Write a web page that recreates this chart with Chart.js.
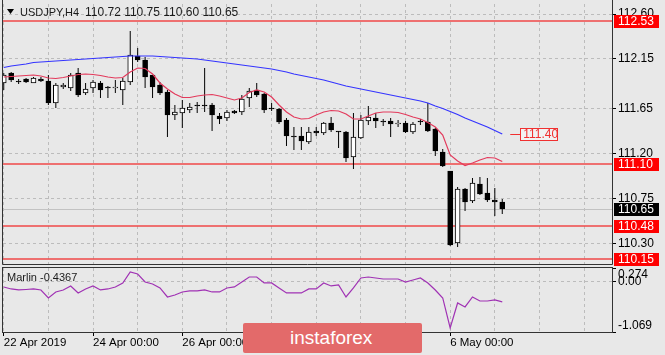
<!DOCTYPE html>
<html><head><meta charset="utf-8">
<script src="https://cdn.jsdelivr.net/npm/chart.js@4/dist/chart.umd.min.js"></script>
<style>
html,body{margin:0;padding:0;background:#e8e8e8;}
#wrap{position:relative;width:665px;height:355px;overflow:hidden;background:#e8e8e8;}
#c1{position:absolute;left:0;top:0;}
#c2{position:absolute;left:0;top:266px;}
#wm{position:absolute;left:243px;top:323px;width:179px;height:30px;background:#e36a6a;color:#fff;
 font:19px 'Liberation Sans',Arial,sans-serif;line-height:30px;padding-left:47px;box-sizing:border-box;border-radius:2px;}
</style></head><body>
<div id="wrap">
<canvas id="c1" width="665" height="266"></canvas>
<canvas id="c2" width="665" height="89"></canvas>
<div id="wm">instaforex</div>
</div>
<script>
// ---- data ----
const symbolName = 'USDJPY,H4';
const open  = [111.91,112.01,111.93,111.95,111.91,111.95,111.93,111.71,111.87,111.86,
  112.01,111.81,111.86,111.91,111.87,111.86,111.84,111.92,112.18,112.14,
  111.99,111.89,111.82,111.59,111.61,111.64,111.68,111.68,111.69,111.58,
  111.56,111.63,111.62,111.76,111.84,111.80,111.65,111.65,111.54,111.38,
  111.38,111.32,111.43,111.41,111.51,111.42,111.42,111.17,111.36,111.53,
  111.56,111.53,111.53,111.50,111.51,111.42,111.53,111.52,111.45,111.22,
  111.03,110.31,110.85,110.73,110.90,110.81,110.74,110.72];
const high  = [112.01,112.02,111.95,111.96,111.97,111.97,111.99,111.91,111.91,112.01,
  112.06,111.91,111.94,111.93,111.88,111.94,111.96,112.43,112.26,112.17,
  111.99,111.92,111.84,111.69,111.74,111.71,111.72,112.06,111.71,111.61,
  111.64,111.64,111.79,111.86,111.91,111.81,111.71,111.66,111.56,111.47,
  111.47,111.47,111.47,111.52,111.57,111.43,111.43,111.61,111.59,111.68,
  111.61,111.55,111.56,111.54,111.53,111.52,111.55,111.71,111.46,111.25,
  111.03,110.87,110.86,110.96,110.97,110.96,110.86,110.75];
const low   = [111.84,111.92,111.90,111.91,111.91,111.92,111.69,111.66,111.85,111.83,
  111.77,111.79,111.81,111.76,111.76,111.81,111.69,111.89,112.12,111.86,
  111.76,111.79,111.37,111.54,111.46,111.61,111.61,111.62,111.43,111.50,
  111.53,111.60,111.59,111.67,111.77,111.61,111.63,111.50,111.28,111.24,
  111.24,111.30,111.38,111.39,111.42,111.26,111.12,111.05,111.35,111.49,
  111.46,111.48,111.37,111.47,111.41,111.40,111.49,111.42,111.18,111.07,
  110.28,110.27,110.63,110.71,110.79,110.72,110.58,110.60];
const close = [111.99,111.94,111.92,111.92,111.96,111.93,111.71,111.89,111.89,111.99,
  111.79,111.85,111.92,111.84,111.86,111.87,111.93,112.19,112.14,111.97,
  111.87,111.81,111.59,111.62,111.66,111.67,111.68,111.68,111.59,111.55,
  111.62,111.61,111.75,111.83,111.79,111.64,111.65,111.52,111.38,111.37,
  111.33,111.42,111.41,111.51,111.44,111.42,111.16,111.37,111.54,111.57,
  111.53,111.52,111.50,111.51,111.42,111.50,111.52,111.43,111.23,111.08,
  110.29,110.85,110.72,110.91,110.80,110.74,110.72,110.65];
const maSlow = [112.065,112.08,112.09,112.10,112.115,112.12,112.125,112.13,112.135,112.14,
  112.145,112.15,112.155,112.16,112.165,112.17,112.175,112.18,112.18,112.18,
  112.18,112.175,112.17,112.165,112.16,112.155,112.15,112.14,112.13,112.12,
  112.11,112.10,112.09,112.08,112.07,112.06,112.05,112.035,112.02,112.00,
  111.985,111.97,111.955,111.94,111.92,111.90,111.88,111.865,111.85,111.835,
  111.82,111.805,111.79,111.775,111.76,111.745,111.73,111.71,111.68,111.655,
  111.625,111.595,111.56,111.53,111.50,111.47,111.435,111.40];
const maFast = [111.97,111.975,111.98,111.985,111.99,111.98,111.96,111.955,111.965,111.98,
  111.995,112.00,111.995,111.985,111.97,111.96,111.965,112.02,112.06,112.055,
  112.00,111.91,111.85,111.80,111.765,111.765,111.78,111.79,111.795,111.78,
  111.76,111.74,111.76,111.815,111.84,111.82,111.77,111.69,111.62,111.57,
  111.55,111.555,111.59,111.62,111.635,111.63,111.60,111.55,111.55,111.58,
  111.61,111.62,111.62,111.615,111.595,111.57,111.55,111.515,111.47,111.39,
  111.19,111.13,111.085,111.11,111.14,111.165,111.16,111.125];
const marlin = [-0.124,-0.166,-0.187,-0.177,-0.166,-0.187,-0.355,-0.229,-0.187,-0.103,
  -0.250,-0.166,-0.103,-0.187,-0.166,-0.124,-0.040,0.190,0.148,-0.020,
  -0.061,-0.145,-0.334,-0.292,-0.229,-0.208,-0.208,-0.187,-0.229,-0.229,
  -0.145,-0.124,-0.020,0.085,0.085,-0.040,-0.040,-0.145,-0.250,-0.250,
  -0.250,-0.166,-0.166,-0.040,-0.103,-0.082,-0.334,-0.145,0.064,0.085,
  0.064,0.043,0.043,0.043,-0.020,0.022,0.064,-0.040,-0.187,-0.355,
  -0.984,-0.460,-0.544,-0.334,-0.418,-0.418,-0.397,-0.4367];
const priceTicks = [110.30, 110.75, 111.20, 111.65, 112.15, 112.60];
const levels = [112.53, 111.10, 110.48, 110.15];
const maLabelValue = 111.40;
const marlinTicks = [0.274, 0.00, -1.069];
const gridBars = [0,6,12,18,24,30,36,42,48,54,60,66,72,78];
const timeTickBars = [0,12,24,60];
const timeTickLabels = ['22 Apr 2019','24 Apr 00:00','26 Apr 00:00','6 May 00:00'];

// ---- setup ----
const FONT = "'Liberation Sans', Arial, sans-serif";
Chart.defaults.font.family = FONT;
Chart.defaults.font.size = 12;
Chart.defaults.color = '#000';
const n = close.length;
const idx = close.map((_, i) => i);
const lastPrice = close[n - 1];
const GRID = '#bcbcbc', FRAME = '#333333';
const XMIN = -0.1, XMAX = 81.75;

function noPad(s){ s.paddingTop = 0; s.paddingBottom = 0; s.paddingLeft = 0; s.paddingRight = 0; }

const mainDeco = {
  id: 'mainDeco',
  beforeDatasetsDraw(chart) {
    const {ctx, chartArea: a, scales: {y}} = chart;
    ctx.save();
    ctx.beginPath(); ctx.rect(a.left, 0, a.right - a.left, a.bottom); ctx.clip();
    const py = Math.round(y.getPixelForValue(lastPrice)) + 0.5;
    ctx.strokeStyle = '#c2c2c2'; ctx.lineWidth = 1;
    ctx.beginPath(); ctx.moveTo(a.left, py); ctx.lineTo(a.right, py); ctx.stroke();
    ctx.strokeStyle = '#f04848'; ctx.lineWidth = 1.6;
    levels.forEach(v => { const yy = y.getPixelForValue(v);
      ctx.beginPath(); ctx.moveTo(a.left, yy); ctx.lineTo(a.right, yy); ctx.stroke(); });
    ctx.restore();
  },
  afterDraw(chart) {
    const {ctx, chartArea: a, scales: {x, y}} = chart;
    ctx.save();
    ctx.strokeStyle = FRAME; ctx.lineWidth = 1;
    ctx.beginPath();
    ctx.moveTo(a.left - 0.5, 0); ctx.lineTo(a.left - 0.5, a.bottom + 0.5);
    ctx.lineTo(a.right + 0.5, a.bottom + 0.5); ctx.lineTo(a.right + 0.5, 0);
    ctx.stroke();
    ctx.font = '12px ' + FONT; ctx.textBaseline = 'middle'; ctx.textAlign = 'left';
    const tag = (v, bg) => {
      const yy = y.getPixelForValue(v);
      ctx.fillStyle = bg; ctx.fillRect(a.right + 2, Math.round(yy) - 6, 45, 13);
      ctx.fillStyle = '#fff'; ctx.fillText(v.toFixed(2), a.right + 6, Math.round(yy) + 0.5);
    };
    levels.forEach(v => tag(v, '#ff0000'));
    tag(lastPrice, '#000000');
    const lx = x.getPixelForValue(n - 1) + 8, ly = Math.round(y.getPixelForValue(maLabelValue)) + 0.5;
    ctx.strokeStyle = '#f03030'; ctx.lineWidth = 1;
    ctx.beginPath(); ctx.moveTo(lx, ly); ctx.lineTo(lx + 10, ly); ctx.stroke();
    ctx.fillStyle = '#f2f2f2'; ctx.fillRect(lx + 10.5, ly - 6, 37, 12);
    ctx.strokeRect(Math.round(lx + 10) + 0.5, ly - 6, 37, 12);
    ctx.fillStyle = '#f03030'; ctx.fillText(maLabelValue.toFixed(2), lx + 13, ly + 0.5);
    ctx.fillStyle = '#000';
    ctx.beginPath(); ctx.moveTo(7, 9); ctx.lineTo(14, 9); ctx.lineTo(10.5, 14); ctx.closePath(); ctx.fill();
    ctx.fillStyle = '#1a1a1a';
    ctx.font = '11px ' + FONT; ctx.fillText(symbolName, 20, 12.5);
    ctx.font = '12px ' + FONT;
    ctx.fillText([open[n-1], high[n-1], low[n-1], close[n-1]].map(v => v.toFixed(2)).join(' '), 85, 12.5);
    ctx.restore();
  }
};

new Chart(document.getElementById('c1'), {
  type: 'bar',
  data: { datasets: [
    { type: 'line', data: idx.map(i => ({x: i, y: maSlow[i]})), borderColor: '#3434ff', borderWidth: 1.2,
      pointRadius: 0, tension: 0, order: 0 },
    { type: 'line', data: idx.map(i => ({x: i, y: maFast[i]})), borderColor: '#e33a5c', borderWidth: 1.2,
      pointRadius: 0, tension: 0, order: 0 },
    { type: 'bar', data: idx.map(i => ({x: i, y: [open[i], close[i]]})),
      backgroundColor: idx.map(i => close[i] > open[i] ? '#ffffff' : '#000000'),
      borderColor: '#000', borderWidth: 1, borderSkipped: false, barThickness: 5, grouped: false,
      minBarLength: 1, order: 1 },
    { type: 'bar', data: idx.map(i => ({x: i, y: [low[i], high[i]]})),
      backgroundColor: '#000', borderWidth: 0, barThickness: 1, grouped: false, inflateAmount: 0, order: 2 }
  ]},
  options: {
    responsive: false, animation: false, events: [],
    layout: { padding: { left: 3, top: 4, right: 0, bottom: 2 } },
    plugins: { legend: { display: false }, tooltip: { enabled: false } },
    scales: {
      x: { type: 'linear', min: XMIN, max: XMAX, offset: false,
        afterBuildTicks: s => { s.ticks = gridBars.map(v => ({value: v})); },
        ticks: { display: false },
        grid: { color: GRID, drawTicks: false, offset: false },
        border: { display: false, dash: [3, 3] },
        afterFit: s => { s.height = 0; noPad(s); } },
      y: { position: 'right', min: 110.10, max: 112.70,
        afterBuildTicks: s => { s.ticks = priceTicks.map(v => ({value: v})); },
        ticks: { padding: 2, autoSkip: false, callback: v => Number(v).toFixed(2), font: { size: 12 } },
        grid: { color: GRID, tickColor: '#000', tickLength: 4 },
        border: { display: false, dash: [3, 3] },
        afterFit: s => { s.width = 53; noPad(s); } }
    }
  },
  plugins: [mainDeco]
});

const subDeco = {
  id: 'subDeco',
  afterDraw(chart) {
    const {ctx, chartArea: a, scales: {y}} = chart;
    ctx.save();
    ctx.strokeStyle = FRAME; ctx.lineWidth = 1;
    ctx.strokeRect(a.left - 0.5, a.top - 0.5, a.right - a.left + 1, a.bottom - a.top + 1);
    ctx.fillStyle = '#000'; ctx.textBaseline = 'middle'; ctx.textAlign = 'left';
    ctx.font = '12px ' + FONT;
    const lbl = (v, dy) => ctx.fillText(v === 0 ? '0.00' : String(v), a.right + 6, y.getPixelForValue(v) + dy);
    lbl(marlinTicks[0], 7);
    lbl(marlinTicks[1], 1);
    lbl(marlinTicks[2], -6);
    ctx.fillStyle = '#1a1a1a'; ctx.font = '11px ' + FONT;
    ctx.fillText('Marlin ' + marlin[n - 1].toFixed(4), 7, a.top + 10);
    ctx.restore();
  }
};

new Chart(document.getElementById('c2'), {
  type: 'line',
  data: { datasets: [
    { data: idx.map(i => ({x: i, y: marlin[i]})), borderColor: '#a032b4', borderWidth: 1.2, pointRadius: 0, tension: 0 }
  ]},
  options: {
    responsive: false, animation: false, events: [],
    layout: { padding: { left: 3, top: 2, right: 0, bottom: 0 } },
    plugins: { legend: { display: false }, tooltip: { enabled: false } },
    scales: {
      x: { type: 'linear', min: XMIN, max: XMAX, offset: false,
        afterBuildTicks: s => { s.ticks = gridBars.map(v => ({value: v})); },
        ticks: { autoSkip: false, maxRotation: 0, minRotation: 0, align: 'start', padding: 0,
          font: { size: 11.5 },
          callback: v => { const k = timeTickBars.indexOf(Number(v)); return k >= 0 ? timeTickLabels[k] : ''; } },
        grid: { color: GRID, tickLength: 4, offset: false,
          tickColor: c => (c.tick && timeTickBars.includes(c.tick.value)) ? '#000' : 'rgba(0,0,0,0)' },
        border: { display: false, dash: [3, 3] },
        afterFit: s => { s.height = 23; noPad(s); } },
      y: { position: 'right', min: -1.069, max: 0.274,
        afterBuildTicks: s => { s.ticks = marlinTicks.map(v => ({value: v})); },
        ticks: { display: false },
        grid: { color: c => (c.tick && c.tick.value === 0) ? GRID : 'rgba(0,0,0,0)', tickColor: '#000', tickLength: 4 },
        border: { display: false, dash: [3, 3] },
        afterFit: s => { s.width = 53; noPad(s); } }
    }
  },
  plugins: [subDeco]
});
</script>
</body></html>
